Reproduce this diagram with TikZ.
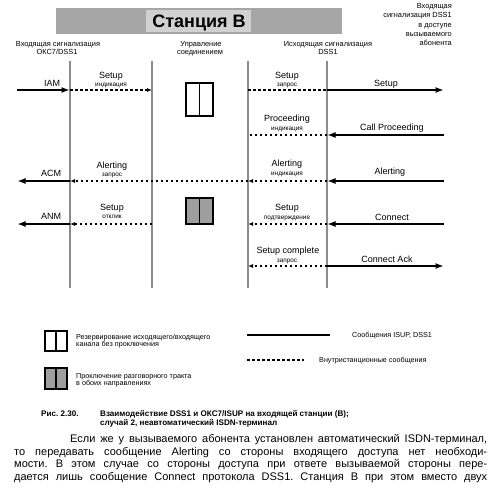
\documentclass[tikz,border=0pt]{standalone}
\usepackage{fontspec}
\setmainfont{Liberation Sans}
\usetikzlibrary{arrows.meta}
\frenchspacing
\begin{document}
\begin{tikzpicture}[x=1pt,y=-1pt,
  vline/.style={draw=black!45, line width=1.6pt},
  msg/.style={line width=1.8pt, -{Latex[length=8.5pt,width=6pt]}},
  imsg/.style={line width=1.1pt, dash pattern=on 2.5pt off 2.5pt, -{Latex[length=5pt,width=4pt]}},
  imsgn/.style={line width=1.1pt, dash pattern=on 2.5pt off 2.5pt},
  lbl/.style={font=\fontsize{9}{10}\selectfont, inner sep=0pt, anchor=base},
  sub/.style={font=\fontsize{6.4}{7}\selectfont, inner sep=0pt, anchor=base},
  hdr/.style={font=\fontsize{7.4}{8}\selectfont, inner sep=0pt, anchor=base},
  leg/.style={font=\fontsize{7.2}{7}\selectfont, inner sep=0pt, anchor=base west},
  captext/.style={font=\bfseries\fontsize{8.1}{9}\selectfont, inner sep=0pt, anchor=base west},
  para/.style={font=\fontsize{11}{12}\selectfont, inner sep=0pt, anchor=base west},
  resbox/.style={draw=black, line width=1.8pt, fill=white},
  conbox/.style={draw=black, line width=1.8pt, fill=black!38}]
\useasboundingbox (0,0) rectangle (496,499);

% title banner
\fill[black!35] (56,8) rectangle (342,34);
\fill[black!18] (146,10) rectangle (251,32);
\node[font=\bfseries\fontsize{18}{20}\selectfont, inner sep=0pt, anchor=base] (title) at (199,27) {Станция B};

% headers
\node[hdr] (h1a) at (58,46) {Входящая сигнализация};
\node[hdr] (h1b) at (57,54) {ОКС7/DSS1};
\node[hdr] (h2a) at (201,46) {Управление};
\node[hdr] (h2b) at (200,54) {соединением};
\node[hdr] (h3a) at (328,46) {Исходящая сигнализация};
\node[hdr] (h3b) at (328,54) {DSS1};
\node[hdr, anchor=base east] (h4a) at (452,8.5) {Входящая};
\node[hdr, anchor=base east] (h4b) at (452,17.75) {сигнализация DSS1};
\node[hdr, anchor=base east] (h4c) at (452,27) {в доступе};
\node[hdr, anchor=base east] (h4d) at (452,36.25) {вызываемого};
\node[hdr, anchor=base east] (h4e) at (452,45.5) {абонента};

% lifelines
\foreach \n/\x in {1/70,2/152,3/248,4/327}{
  \coordinate (t\n) at (\x,61);
  \coordinate (b\n) at (\x,288);
}
\foreach \n in {1,2,3,4}{ \draw[vline] (t\n) -- (b\n); }

% row coordinates
\foreach \r/\y in {1/90,2/135,3/181,4/224,5/266}{
  \foreach \c/\x in {a/17,b/70,c/152,d/248,e/327,f/444}{
    \coordinate (\c\r) at (\x,\y);
  }
}

% row 1
\draw[msg] (a1) -- (b1);
\draw[imsg] (b1) -- (c1);
\draw[imsgn] (d1) -- (e1);
\draw[msg] (e1) -- (f1);
\node[lbl] (l1a) at (52,86) {IAM};
\node[lbl] (l1b) at (111,78.5) {Setup};
\node[sub] (l1c) at (111,86) {индикация};
\node[lbl] (l1d) at (287,78.5) {Setup};
\node[sub] (l1e) at (287,86) {запрос};
\node[lbl] (l1f) at (386,86.5) {Setup};
\node[resbox, minimum width=27pt, minimum height=33pt, inner sep=0pt] (box1) at (199.5,99.5) {};
\draw[line width=1.8pt] (box1.north) -- (box1.south);

% row 2
\draw[imsgn] (e2) -- (d2);
\draw[msg] (f2) -- (e2);
\node[lbl] (l2a) at (287,121.5) {Proceeding};
\node[sub] (l2b) at (287,130) {индикация};
\node[lbl] (l2c) at (392,130.5) {Call Proceeding};

% row 3
\draw[msg] (b3) -- (a3);
\draw[imsg] (d3) -- (b3);
\draw[imsg] (e3) -- (d3);
\draw[msg] (f3) -- (e3);
\node[lbl] (l3a) at (51,176) {ACM};
\node[lbl] (l3b) at (112,168) {Alerting};
\node[sub] (l3c) at (112,176.5) {запрос};
\node[lbl] (l3d) at (287,166.5) {Alerting};
\node[sub] (l3e) at (287,175.5) {индикация};
\node[lbl] (l3f) at (390,174.5) {Alerting};

% row 4
\draw[msg] (b4) -- (a4);
\draw[imsg] (c4) -- (b4);
\draw[imsg] (e4) -- (d4);
\draw[msg] (f4) -- (e4);
\node[lbl] (l4a) at (51,219.5) {ANM};
\node[lbl] (l4b) at (112,210.5) {Setup};
\node[sub] (l4c) at (112,218.5) {отклик};
\node[lbl] (l4d) at (287,210.5) {Setup};
\node[sub] (l4e) at (287,219.5) {подтверждение};
\node[lbl] (l4f) at (392,220) {Connect};
\node[conbox, minimum width=27pt, minimum height=26pt, inner sep=0pt] (box2) at (199.5,211) {};
\draw[line width=1.8pt] (box2.north) -- (box2.south);

% row 5
\draw[imsg] (e5) -- (d5);
\draw[msg] (e5) -- (f5);
\node[lbl] (l5a) at (288,253.5) {Setup complete};
\node[sub] (l5b) at (287,262) {запрос};
\node[lbl] (l5c) at (387,262.5) {Connect Ack};

% legend
\node[resbox, line width=1.6pt, minimum width=22pt, minimum height=20pt, inner sep=0pt] (lg1) at (56,341) {};
\draw[line width=1.6pt] (lg1.north) -- (lg1.south);
\node[leg] (lg1a) at (76,339.5) {Резервирование исходящего/входящего};
\node[leg] (lg1b) at (76,346.5) {канала без проключения};
\node[conbox, line width=1.6pt, minimum width=22pt, minimum height=21pt, inner sep=0pt] (lg2) at (56,378.5) {};
\draw[line width=1.6pt] (lg2.north) -- (lg2.south);
\node[leg] (lg2a) at (76,378.5) {Проключение разговорного тракта};
\node[leg] (lg2b) at (76,385.5) {в обоих направлениях};
\coordinate (ls1) at (247,335);
\coordinate (ls2) at (330,335);
\draw[line width=1.8pt] (ls1) -- (ls2);
\node[leg] (lg3) at (352,337.5) {Сообщения ISUP, DSS1};
\coordinate (ld1) at (247,360);
\coordinate (ld2) at (304,360);
\draw[imsgn] (ld1) -- (ld2);
\node[leg] (lg4) at (319,362.5) {Внутристанционные сообщения};

% caption
\node[captext] (c1) at (41,416) {Рис. 2.30.};
\node[captext] (c2) at (100,416) {Взаимодействие DSS1 и ОКС7/ISUP на входящей станции (B);};
\node[captext] (c3) at (100,425.5) {случай 2, неавтоматический ISDN-терминал};

% paragraph
\node[para] (p1) at (70,442.5) {\makebox[417pt][s]{Если же у вызываемого абонента установлен автоматический ISDN-терминал,}};
\node[para] (p2) at (14,455) {\makebox[473pt][s]{то передавать сообщение Alerting со стороны входящего доступа нет необходи-}};
\node[para] (p3) at (14,467.5) {\makebox[473pt][s]{мости. В этом случае со стороны доступа при ответе вызываемой стороны пере-}};
\node[para] (p4) at (14,480) {\makebox[473pt][s]{дается лишь сообщение Connect протокола DSS1. Станция B при этом вместо двух}};
\end{tikzpicture}
\end{document}
